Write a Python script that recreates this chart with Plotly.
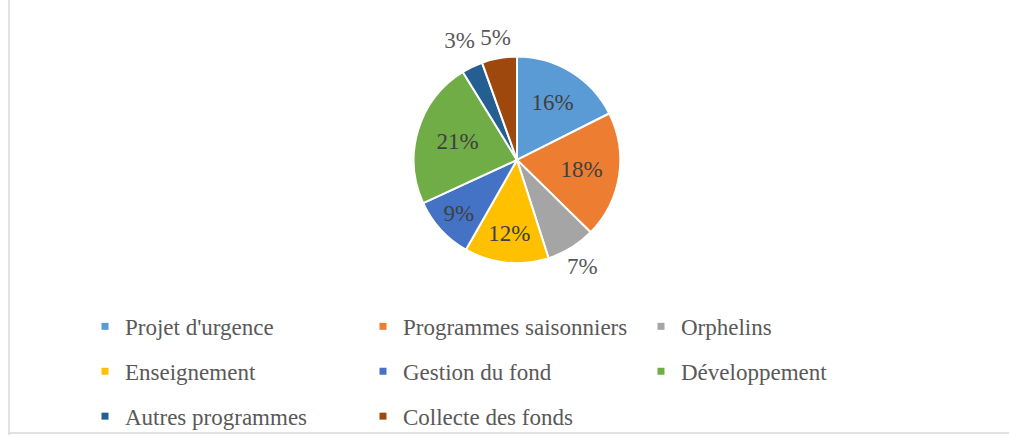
import plotly.graph_objects as go

categories = ["Projet d'urgence", "Programmes saisonniers", "Orphelins",
              "Enseignement", "Gestion du fond", "Développement",
              "Autres programmes", "Collecte des fonds"]
values = [16, 18, 7, 12, 9, 21, 3, 5]
labels_text = ["16%", "18%", "7%", "12%", "9%", "21%", "3%", "5%"]
colors = ["#5B9BD5", "#ED7D31", "#A5A5A5", "#FFC000",
          "#4472C4", "#70AD47", "#255E91", "#9E480E"]
label_outside = [False, False, True, False, False, False, True, True]

# legend layout: column assignment for each category
legend_columns = ["legend", "legend2", "legend3",
                  "legend", "legend2", "legend3",
                  "legend", "legend2"]

W, H = 1009, 438
FONT = "Liberation Serif, Times New Roman, serif"
CX, CY, R = 517, 161, 104          # pie centre / radius in px
R_OUT = 147                        # transparent label ring (outside labels)


def domain(r):
    return dict(x=[(CX - r) / W, (CX + r) / W],
                y=[1 - (CY + r) / H, 1 - (CY - r) / H])


fig = go.Figure()
# main pie: slices and inside labels
fig.add_trace(go.Pie(
    labels=categories, values=values, text=labels_text,
    textinfo="text", texttemplate="%{text}",
    textposition=["none" if o else "inside" for o in label_outside],
    insidetextorientation="horizontal",
    sort=False, direction="clockwise", rotation=0,
    marker=dict(colors=colors, line=dict(color="white", width=2)),
    insidetextfont=dict(family=FONT, size=23, color="#404040"),
    showlegend=False, domain=domain(R),
    hoverinfo="label+text",
))
# transparent ring around the pie carrying the outside labels, centred on
# each slice's mid-angle
fig.add_trace(go.Pie(
    labels=categories, values=values, text=labels_text,
    textinfo="text", texttemplate="%{text}",
    textposition=["inside" if o else "none" for o in label_outside],
    insidetextorientation="horizontal",
    hole=R / R_OUT,
    sort=False, direction="clockwise", rotation=0,
    marker=dict(colors=["rgba(0,0,0,0)"] * len(values), line=dict(width=0)),
    insidetextfont=dict(family=FONT, size=23, color="#595959"),
    showlegend=False, domain=domain(R_OUT), hoverinfo="skip",
))

for i, (cat, col, lg) in enumerate(zip(categories, colors, legend_columns)):
    fig.add_trace(go.Scatter(
        x=[None], y=[None], mode="markers", name=cat,
        marker=dict(symbol="square", size=7, color=col),
        legend=lg, legendgroup=f"g{i}", showlegend=True,
    ))

leg_common = dict(
    orientation="v", yanchor="top", xanchor="left",
    font=dict(family=FONT, size=23, color="#595959"),
    bgcolor="rgba(0,0,0,0)", itemwidth=30, tracegroupgap=12,
    itemclick=False, itemdoubleclick=False,
)
legend_top = 1 - 307 / H
fig.update_layout(
    width=W, height=H,
    margin=dict(l=0, r=0, t=0, b=0),
    paper_bgcolor="white", plot_bgcolor="white",
    uniformtext=dict(mode="show", minsize=23),
    xaxis=dict(visible=False, domain=[0, 0.01]),
    yaxis=dict(visible=False, domain=[0, 0.01]),
    legend=dict(x=85 / W, y=legend_top, **leg_common),
    legend2=dict(x=363 / W, y=legend_top, **leg_common),
    legend3=dict(x=641 / W, y=legend_top, **leg_common),
    shapes=[
        dict(type="line", xref="paper", yref="paper",
             x0=9 / W, x1=9 / W, y0=0, y1=1,
             line=dict(color="#D9D9D9", width=1.5)),
        dict(type="line", xref="paper", yref="paper",
             x0=9 / W, x1=1, y0=1 - 436 / H, y1=1 - 436 / H,
             line=dict(color="#D9D9D9", width=1.5)),
    ],
)

fig.write_html("out.html")
